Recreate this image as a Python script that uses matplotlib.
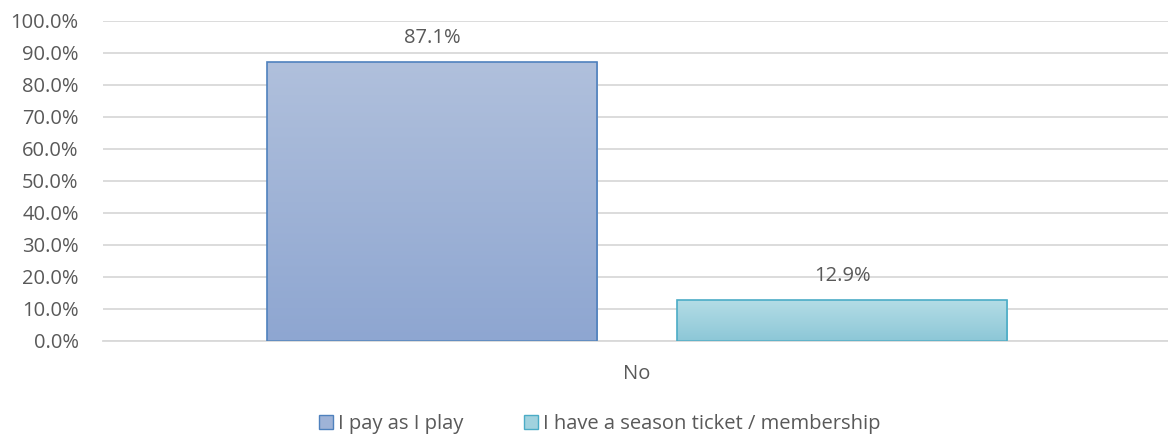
import numpy as np
import matplotlib.pyplot as plt
from matplotlib.colors import LinearSegmentedColormap
from matplotlib.patches import Patch

plt.rcParams['font.family'] = ['Open Sans', 'DejaVu Sans']

categories = ['No']
series = ['I pay as I play', 'I have a season ticket / membership']
values = [87.1, 12.9]
yticks = np.arange(0, 101, 10)

top_colors = ['#b0c0dc', '#b5dde6']
bottom_colors = ['#8ea6d1', '#8cc7d7']
edge_colors = ['#4f81bd', '#4bacc6']
face_colors = ['#9fb3d7', '#a1d2de']
text_color = '#595959'
fs = 14.5

fig = plt.figure(figsize=(11.68, 4.41), dpi=100)
ax = fig.add_axes([103 / 1168, 1 - 341 / 441, 1068 / 1168, 320 / 441])

width = 0.309
offsets = [-0.192, 0.192]
for i, (name, v) in enumerate(zip(series, values)):
    x0 = offsets[i] - width / 2
    bars = ax.bar(offsets[i], v, width=width, facecolor='none',
                  edgecolor=edge_colors[i], linewidth=1.2, zorder=3)
    # vertical gradient fill clipped to the bar
    cmap = LinearSegmentedColormap.from_list('g%d' % i, [bottom_colors[i], top_colors[i]])
    grad = np.linspace(0, 1, 256).reshape(-1, 1)
    im = ax.imshow(grad, cmap=cmap, origin='lower', aspect='auto',
                   extent=[x0, x0 + width, 0, v], zorder=2)
    im.set_clip_path(bars[0])
    ax.text(offsets[i], v + 4.4, '%.1f%%' % v, ha='center', va='bottom',
            fontsize=fs, color=text_color)

ax.set_xlim(-0.5, 0.5)
ax.set_ylim(0, 100)
ax.set_yticks(yticks)
ax.set_yticklabels(['%.1f%%' % t for t in yticks], fontsize=fs, color=text_color)
ax.set_xticks([0])
ax.set_xticklabels(categories, fontsize=fs, color=text_color)
ax.tick_params(length=0)
ax.tick_params(axis='x', pad=16.5)
ax.tick_params(axis='y', pad=17.5)
ax.grid(axis='y', color='#d9d9d9', linewidth=1.3, zorder=0)
for s in ['top', 'right', 'left']:
    ax.spines[s].set_visible(False)
ax.spines['bottom'].set_color('#d9d9d9')
ax.spines['bottom'].set_linewidth(1.3)

handles = [Patch(facecolor=face_colors[i], edgecolor=edge_colors[i], label=series[i])
           for i in range(2)]
fig.legend(handles=handles, loc='center', bbox_to_anchor=(600 / 1168, 1 - 424 / 441),
           ncol=2, frameon=False, fontsize=fs, labelcolor=text_color,
           handlelength=0.7, handleheight=0.7, handletextpad=0.25, columnspacing=3.0)

fig.savefig('out.png', dpi=100)
